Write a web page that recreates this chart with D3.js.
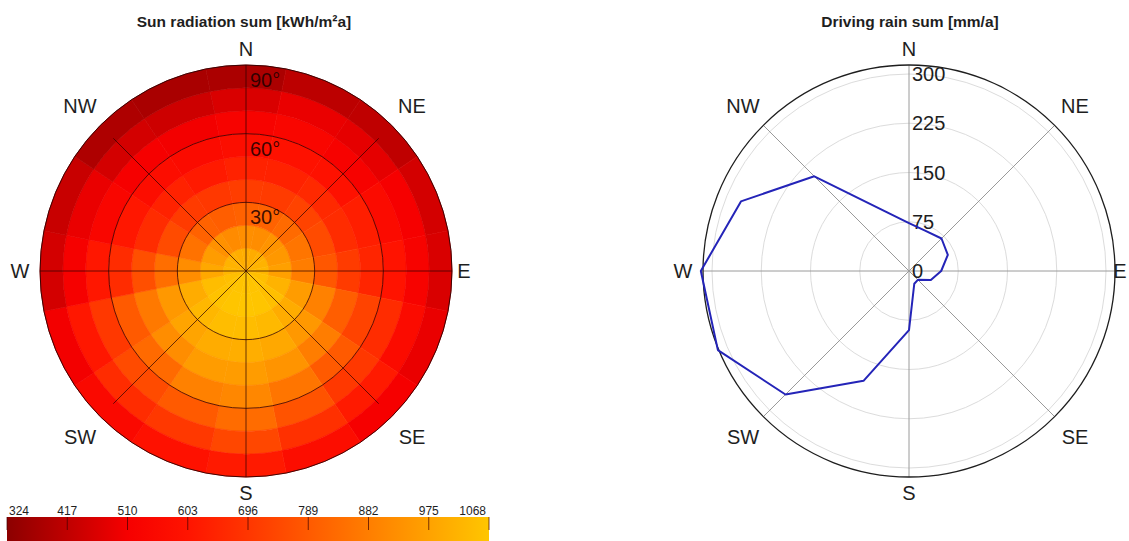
<!DOCTYPE html>
<html>
<head>
<meta charset="utf-8">
<script src="https://cdn.jsdelivr.net/npm/d3@7"></script>
<style>
  body { margin: 0; background: #fff; }
  svg { display: block; font-family: Arial, "Liberation Sans", sans-serif; }
</style>
</head>
<body>
<svg id="chart" width="1129" height="541"></svg>
<script>
// Compass directions, clockwise from north (16 sectors of 22.5°)
const directions = ['N', 'NNE', 'NE', 'ENE', 'E', 'ESE', 'SE', 'SSE', 'S', 'SSW', 'SW', 'WSW', 'W', 'WNW', 'NW', 'NNW'];
const compassLabels = ['N', 'NE', 'E', 'SE', 'S', 'SW', 'W', 'NW'];

// Zenith angle rings (deg), 10° bands from zenith to horizon
const zenithRings = [0, 10, 20, 30, 40, 50, 60, 70, 80, 90];
const zenithTicks = [30, 60, 90];

// Sun radiation sum [kWh/m²a] per sector, zenith band 0-10° ... 80-90°
const sunN = [1005, 925, 810, 715, 640, 575, 525, 460, 380];
const sunNNE = [1000, 920, 810, 710, 640, 590, 540, 490, 410];
const sunNE = [1010, 940, 830, 730, 660, 590, 520, 480, 415];
const sunENE = [1020, 950, 860, 750, 670, 630, 560, 510, 450];
const sunE = [1030, 970, 880, 780, 710, 650, 600, 525, 460];
const sunESE = [1050, 1020, 960, 890, 800, 730, 670, 560, 490];
const sunSE = [1060, 1050, 1000, 950, 880, 790, 700, 620, 510];
const sunSSE = [1062, 1065, 1035, 990, 940, 860, 770, 680, 570];
const sunS = [1062, 1068, 1045, 1005, 960, 905, 835, 740, 620];
const sunSSW = [1062, 1065, 1045, 1000, 960, 890, 790, 700, 590];
const sunSW = [1058, 1058, 1030, 980, 920, 830, 750, 670, 550];
const sunWSW = [1050, 1045, 1000, 950, 870, 790, 700, 610, 505];
const sunW = [1030, 990, 920, 840, 760, 670, 610, 515, 450];
const sunWNW = [1020, 960, 850, 750, 670, 610, 540, 490, 430];
const sunNW = [1010, 930, 810, 710, 640, 570, 510, 450, 385];
const sunNNW = [1005, 915, 800, 700, 620, 560, 505, 440, 375];

// Colour bar ticks and colours
const colorTicks = [324, 417, 510, 603, 696, 789, 882, 975, 1068];
const colorStops = ['#8c0000', '#c00000', '#f60000', '#ff1400', '#ff3600', '#ff5a00', '#ff7e00', '#ffa200', '#ffc600'];

// Driving rain sum [mm/a] per direction
const rainValues = [73, 66, 70, 64, 49, 36, 19, 21, 90, 181, 266, 315, 317, 277, 204, 99];
const rainTicks = [0, 75, 150, 225, 300];

const sunTable = [sunN, sunNNE, sunNE, sunENE, sunE, sunESE, sunSE, sunSSE,
  sunS, sunSSW, sunSW, sunWSW, sunW, sunWNW, sunNW, sunNNW];

const svg = d3.select('#chart');
const R = 206;
const deg = Math.PI / 180;
const ink = '#1e1e1e';

const color = d3.scaleLinear().domain(colorTicks).range(colorStops).interpolate(d3.interpolateRgb);

// Compass labels around a polar plot
function drawCompass(g, eastOffset) {
  const offsets = {
    N: [0, -222], S: [0, 222], W: [-226, 0], E: [eastOffset, 0],
    NE: [166, -165], NW: [-166, -165], SE: [166, 166], SW: [-166, 166],
  };
  g.selectAll('text.compass')
    .data(compassLabels)
    .join('text')
    .attr('class', 'compass')
    .attr('x', (d) => offsets[d][0])
    .attr('y', (d) => offsets[d][1])
    .attr('text-anchor', 'middle')
    .attr('dominant-baseline', 'central')
    .attr('font-size', 20)
    .attr('fill', ink)
    .text((d) => d);
}

// ---------- Sun radiation (left) ----------
const sun = svg.append('g').attr('transform', 'translate(246, 271)');
const rZen = d3.scaleLinear().domain([0, 90]).range([0, R]);
const step = 360 / directions.length;

svg.append('text')
  .attr('x', 244).attr('y', 27)
  .attr('text-anchor', 'middle')
  .attr('font-size', 15.5).attr('font-weight', 700)
  .attr('fill', ink)
  .text('Sun radiation sum [kWh/m²a]');

const cells = directions.flatMap((dir, i) =>
  sunTable[i].map((v, j) => ({ dir, i, j, v })));

const arc = d3.arc()
  .innerRadius((d) => rZen(zenithRings[d.j]))
  .outerRadius((d) => rZen(zenithRings[d.j + 1]))
  .startAngle((d) => (d.i * step - step / 2) * deg)
  .endAngle((d) => (d.i * step + step / 2) * deg);

sun.selectAll('path.cell')
  .data(cells)
  .join('path')
  .attr('class', 'cell')
  .attr('d', arc)
  .attr('fill', (d) => color(d.v))
  .attr('stroke', (d) => color(d.v))
  .attr('stroke-width', 0.6);

// grid circles at 30°, 60°, 90°
sun.selectAll('circle.grid')
  .data(zenithTicks)
  .join('circle')
  .attr('class', 'grid')
  .attr('r', (d) => rZen(d))
  .attr('fill', 'none')
  .attr('stroke', '#2a0000')
  .attr('stroke-opacity', (d) => (d === 90 ? 0.9 : 0.75))
  .attr('stroke-width', 1);

// spokes: N-S and E-W full, diagonals a bit shorter
sun.selectAll('line.spoke')
  .data([0, 45, 90, 135, 180, 225, 270, 315])
  .join('line')
  .attr('class', 'spoke')
  .attr('x1', 0).attr('y1', 0)
  .attr('x2', (d) => Math.sin(d * deg) * (d % 90 === 0 ? R : rZen(82)))
  .attr('y2', (d) => -Math.cos(d * deg) * (d % 90 === 0 ? R : rZen(82)))
  .attr('stroke', '#2a0000')
  .attr('stroke-opacity', 0.7)
  .attr('stroke-width', 1);

sun.selectAll('text.zen')
  .data(zenithTicks)
  .join('text')
  .attr('class', 'zen')
  .attr('x', 4)
  .attr('y', (d) => -rZen(d) + 22)
  .attr('font-size', 20)
  .attr('fill', '#1a0000')
  .attr('fill-opacity', 0.85)
  .text((d) => `${d}°`);

drawCompass(sun, 218);

// colour bar
const cbX = d3.scaleLinear().domain([colorTicks[0], colorTicks[colorTicks.length - 1]]).range([7, 489]);
const grad = svg.append('defs').append('linearGradient').attr('id', 'cbar');
grad.selectAll('stop')
  .data(colorTicks)
  .join('stop')
  .attr('offset', (d) => (cbX(d) - 7) / (489 - 7))
  .attr('stop-color', (d) => color(d));

const cb = svg.append('g');
cb.append('rect')
  .attr('x', 7).attr('y', 517)
  .attr('width', 482).attr('height', 24)
  .attr('fill', 'url(#cbar)');

cb.selectAll('line.tick')
  .data(colorTicks)
  .join('line')
  .attr('class', 'tick')
  .attr('x1', (d) => cbX(d)).attr('x2', (d) => cbX(d))
  .attr('y1', 517).attr('y2', 530)
  .attr('stroke', '#400000')
  .attr('stroke-opacity', 0.7);

cb.selectAll('text.tick')
  .data(colorTicks)
  .join('text')
  .attr('class', 'tick')
  .attr('x', (d, i) => (i === 0 ? 9 : i === colorTicks.length - 1 ? 486 : cbX(d)))
  .attr('y', 515)
  .attr('text-anchor', (d, i) => (i === 0 ? 'start' : i === colorTicks.length - 1 ? 'end' : 'middle'))
  .attr('font-size', 12)
  .attr('fill', ink)
  .text((d) => d);

// ---------- Driving rain (right) ----------
const rain = svg.append('g').attr('transform', 'translate(909, 271)');
const rRain = d3.scaleLinear().domain([0, 300]).range([0, 197]);

svg.append('text')
  .attr('x', 910).attr('y', 27)
  .attr('text-anchor', 'middle')
  .attr('font-size', 15.5).attr('font-weight', 700)
  .attr('fill', ink)
  .text('Driving rain sum [mm/a]');

rain.selectAll('circle.grid')
  .data(rainTicks.slice(1))
  .join('circle')
  .attr('class', 'grid')
  .attr('r', (d) => rRain(d))
  .attr('fill', 'none')
  .attr('stroke', '#dcdcdc')
  .attr('stroke-width', 1);

rain.selectAll('line.spoke')
  .data([0, 45, 90, 135, 180, 225, 270, 315])
  .join('line')
  .attr('class', 'spoke')
  .attr('x1', 0).attr('y1', 0)
  .attr('x2', (d) => Math.sin(d * deg) * R)
  .attr('y2', (d) => -Math.cos(d * deg) * R)
  .attr('stroke', '#9a9a9a')
  .attr('stroke-width', 1);

rain.append('circle')
  .attr('r', R)
  .attr('fill', 'none')
  .attr('stroke', ink)
  .attr('stroke-width', 1.3);

rain.selectAll('text.rtick')
  .data(rainTicks)
  .join('text')
  .attr('class', 'rtick')
  .attr('x', 3)
  .attr('y', (d) => -rRain(d))
  .attr('dominant-baseline', 'central')
  .attr('font-size', 20)
  .attr('fill', ink)
  .text((d) => d);

const rainLine = d3.lineRadial()
  .angle((d, i) => i * step * deg)
  .radius((d) => rRain(d))
  .curve(d3.curveLinearClosed);

rain.append('path')
  .datum(rainValues)
  .attr('d', rainLine)
  .attr('fill', 'none')
  .attr('stroke', '#2424b8')
  .attr('stroke-width', 2)
  .attr('stroke-linejoin', 'round');

drawCompass(rain, 211);
</script>
</body>
</html>
